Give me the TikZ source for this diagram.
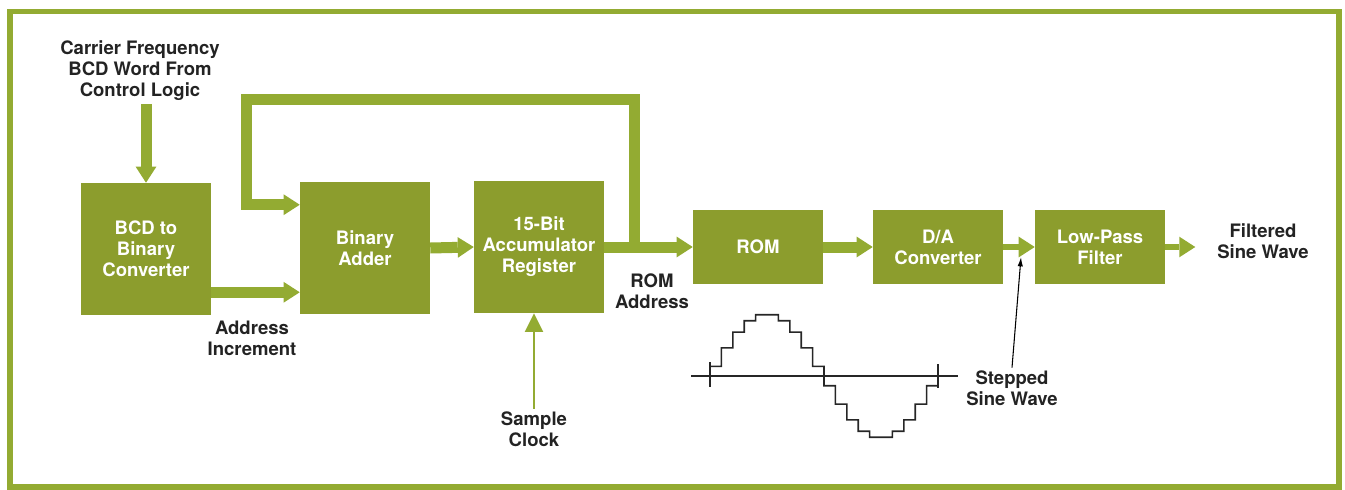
\documentclass[tikz,border=0pt]{standalone}
\usepackage{fontspec}
\setmainfont{TeX Gyre Heros}
\usepackage{tikz}
\usetikzlibrary{arrows.meta}
\definecolor{blockgreen}{RGB}{140,157,45}
\definecolor{linegreen}{RGB}{147,171,50}
\definecolor{labelgray}{RGB}{35,35,35}

\begin{document}
\begin{tikzpicture}[x=0.75pt,y=-0.75pt]
        \tikzset{block/.style = {rectangle,fill=blockgreen,text=white,inner sep=0pt,minimum width=97.5pt,minimum height=99pt,align=center,font=\fontsize{13.9}{15.75}\selectfont\bfseries}}
        \tikzset{blockw/.style = {block,minimum height=55.5pt}}
        \tikzset{note/.style = {align=center,inner sep=2pt,text=labelgray,font=\fontsize{13.9}{15.75}\selectfont\bfseries}}
        \tikzset{bus/.style = {-{Triangle[length=12pt,width=15.5pt,line width=0pt]}, line width=8.25pt, draw=linegreen}}
        \tikzset{busthin/.style = {bus, line width=4.5pt}}
        \tikzset{clk/.style = {-{Triangle[length=14pt,width=14pt,line width=0pt]}, line width=1.6pt, draw=linegreen}}
        \tikzset{pointer/.style = {-{Latex[length=7pt,width=4pt]}, line width=0.8pt, draw=black}}
        \tikzset{wave/.style = {line width=1.2pt, draw=black!85}}
        \tikzset{frame/.style = {line width=4.1pt, draw=linegreen}}
        \useasboundingbox (0,0) rectangle (1345,489);
        \draw[frame] (10,11.5) rectangle (1339,487);
        % blocks
        \node[block] (bcd) at (146,249) {BCD to\\Binary\\Converter};
        \node[block] (adder) at (365,248) {Binary\\Adder};
        \node[block] (accum) at (539,247) {15-Bit\\Accumulator\\Register};
        \node[blockw] (rom) at (758,247) {ROM};
        \node[blockw] (dac) at (938,247) {D/A\\Converter};
        \node[blockw] (lpf) at (1100,247) {Low-Pass\\Filter};
        % labels
        \node[note] (carrier) at (140,71) {Carrier Frequency\\BCD Word From\\Control Logic};
        \node[note] (addrinc) at (252,338) {Address\\Increment};
        \node[note] (romaddr) at (652,291) {ROM\\Address};
        \node[note] (sample) at (534,429) {Sample\\Clock};
        \node[note] (filtered) at (1263,241) {Filtered\\Sine Wave};
        \node[note] (stepped) at (1012,388) {Stepped\\Sine Wave};
        % points
        \coordinate (addin1) at ([yshift=-17.25pt]adder.north west);
        \coordinate (addin2) at ([yshift=16.5pt]adder.south west);
        \coordinate (branch) at ([xshift=22.5pt]accum.east);
        \coordinate (loopL) at (246,99);
        \coordinate (out) at ([xshift=22.5pt]lpf.east);
        \coordinate (tap) at (1021,257);
        % buses
        \draw[bus] (bcd.north |- carrier.south) -- (bcd.north);
        \draw[bus] (bcd.east |- addin2) -- (addin2);
        \draw[bus] (adder.east) -- (accum.west);
        \draw[bus] (accum.east) -- (rom.west);
        \draw[bus] (branch) |- (loopL) |- (addin1);
        \draw[bus] (rom.east) -- (dac.west);
        \draw[busthin] (dac.east) -- (lpf.west);
        \draw[busthin] (lpf.east) -- (out);
        \draw[clk] (sample.north) -- (sample.north |- accum.south);
        \draw[pointer] (stepped.north) -- (tap);
        % stepped sine wave
        \draw[wave] (691,376) -- (958,376);
        \draw[wave] (710,362) -- (710,387);
        \draw[wave] (938,364) -- (938,388);
        \draw[wave] (710,376) \foreach \k in {0,...,19}{ -- ({710+11.4*\k},{376-62*sin(18*\k+9)}) -- ({710+11.4*(\k+1)},{376-62*sin(18*\k+9)})} -- (938,376);
\end{tikzpicture}
\end{document}
